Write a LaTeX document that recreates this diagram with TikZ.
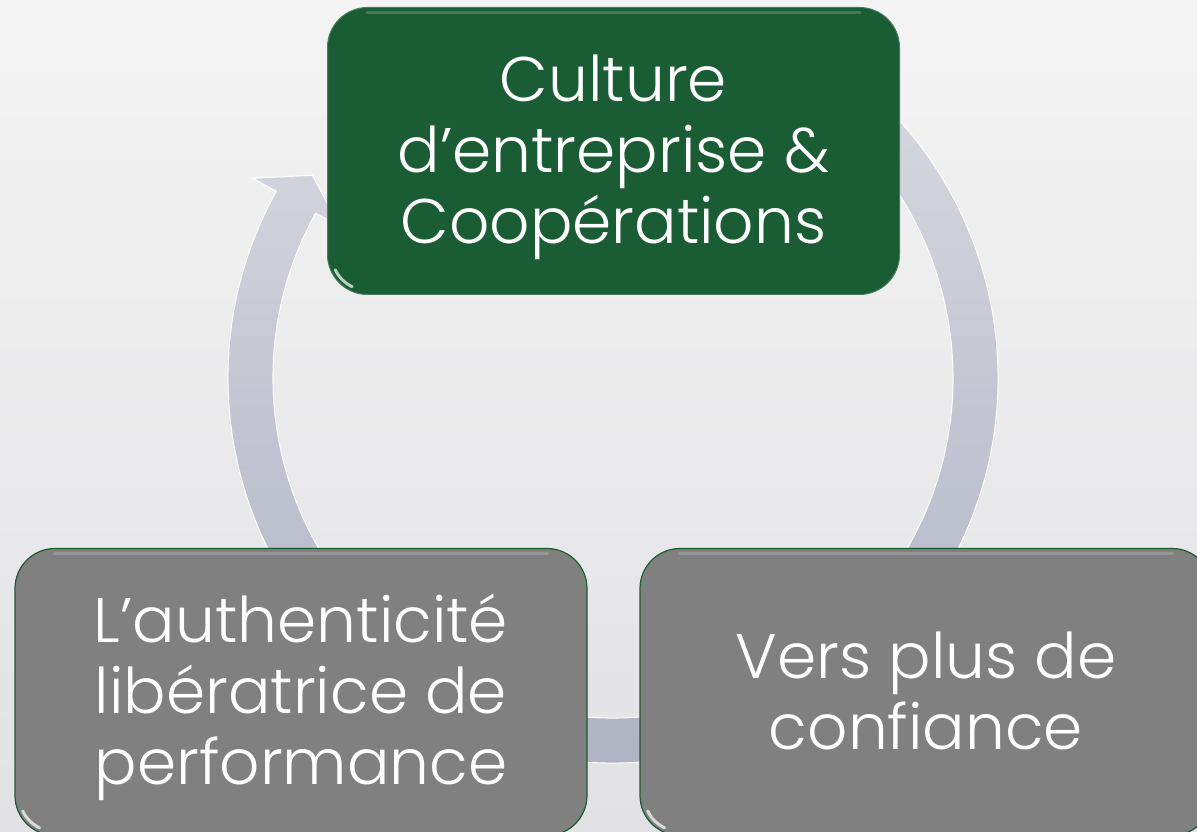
\documentclass[tikz,border=0pt]{standalone}
\usepackage{fontspec}
\setmainfont{Poppins Light}
\definecolor{boxgreen}{RGB}{26,92,52}
\definecolor{boxgray}{RGB}{128,128,128}
\definecolor{ringtop}{RGB}{216,218,226}
\definecolor{ringbot}{RGB}{172,176,192}
\definecolor{bgtop}{RGB}{244,244,244}
\definecolor{bgbot}{RGB}{226,226,229}
\tikzset{
  stepbox/.style={rounded corners=40pt, minimum width=572pt, minimum height=287pt, inner sep=0pt},
  boxtext/.style={align=center, text=white, inner sep=0pt, font=\fontsize{63}{71}\selectfont},
  greenbox/.style={stepbox, fill=boxgreen, draw=boxgreen!80!white, line width=1pt},
  graybox/.style={stepbox, fill=boxgray, draw=boxgreen, line width=1.2pt},
  glint/.style={white, line width=3pt, line cap=round, opacity=0.7},
  topglow/.style={white, line width=3pt, line cap=round, opacity=0.18},
}
\begin{document}
\begin{tikzpicture}[x=1pt,y=1pt]
\useasboundingbox (0,0) rectangle (1197,832);
\clip (0,0) rectangle (1197,832);
\fill[top color=bgtop, bottom color=bgbot] (0,0) rectangle (1197,832);
\coordinate (c) at (613,454);
% circular arrow
\draw[white, line width=1pt, top color=ringtop, bottom color=ringbot]
  ([shift={(c)}]60:385) arc[start angle=60, end angle=-209, radius=385]
  -- ([shift={(c)}]-209:412)
  -- ([shift={(c)}]-214:362.5)
  -- ([shift={(c)}]-209:313)
  -- ([shift={(c)}]-209:340)
  arc[start angle=-209, end angle=60, radius=340] -- cycle;
% boxes
\node[greenbox] (culture) at (613.5,681) {};
\node[graybox] (auth) at (301,140) {};
\node[graybox] (conf) at (926,140) {};
% bevel highlights
\foreach \b in {culture,auth,conf}{
  \draw[glint] ([shift={(40,40)}]\b.south west) ++(205:35) arc[start angle=205, end angle=245, radius=35];
  \draw[topglow] ([shift={(40,-6)}]\b.north west) -- ([shift={(-40,-6)}]\b.north east);
}
% texts
\node[boxtext] (culture-t) at ([yshift=-6]culture.center) {Culture\\d’entreprise \&\\Coopérations};
\node[boxtext] (auth-t) at ([yshift=-5]auth.center) {L’authenticité\\libératrice de\\performance};
\node[boxtext] (conf-t) at ([yshift=1]conf.center) {Vers plus de\\confiance};
\end{tikzpicture}
\end{document}
